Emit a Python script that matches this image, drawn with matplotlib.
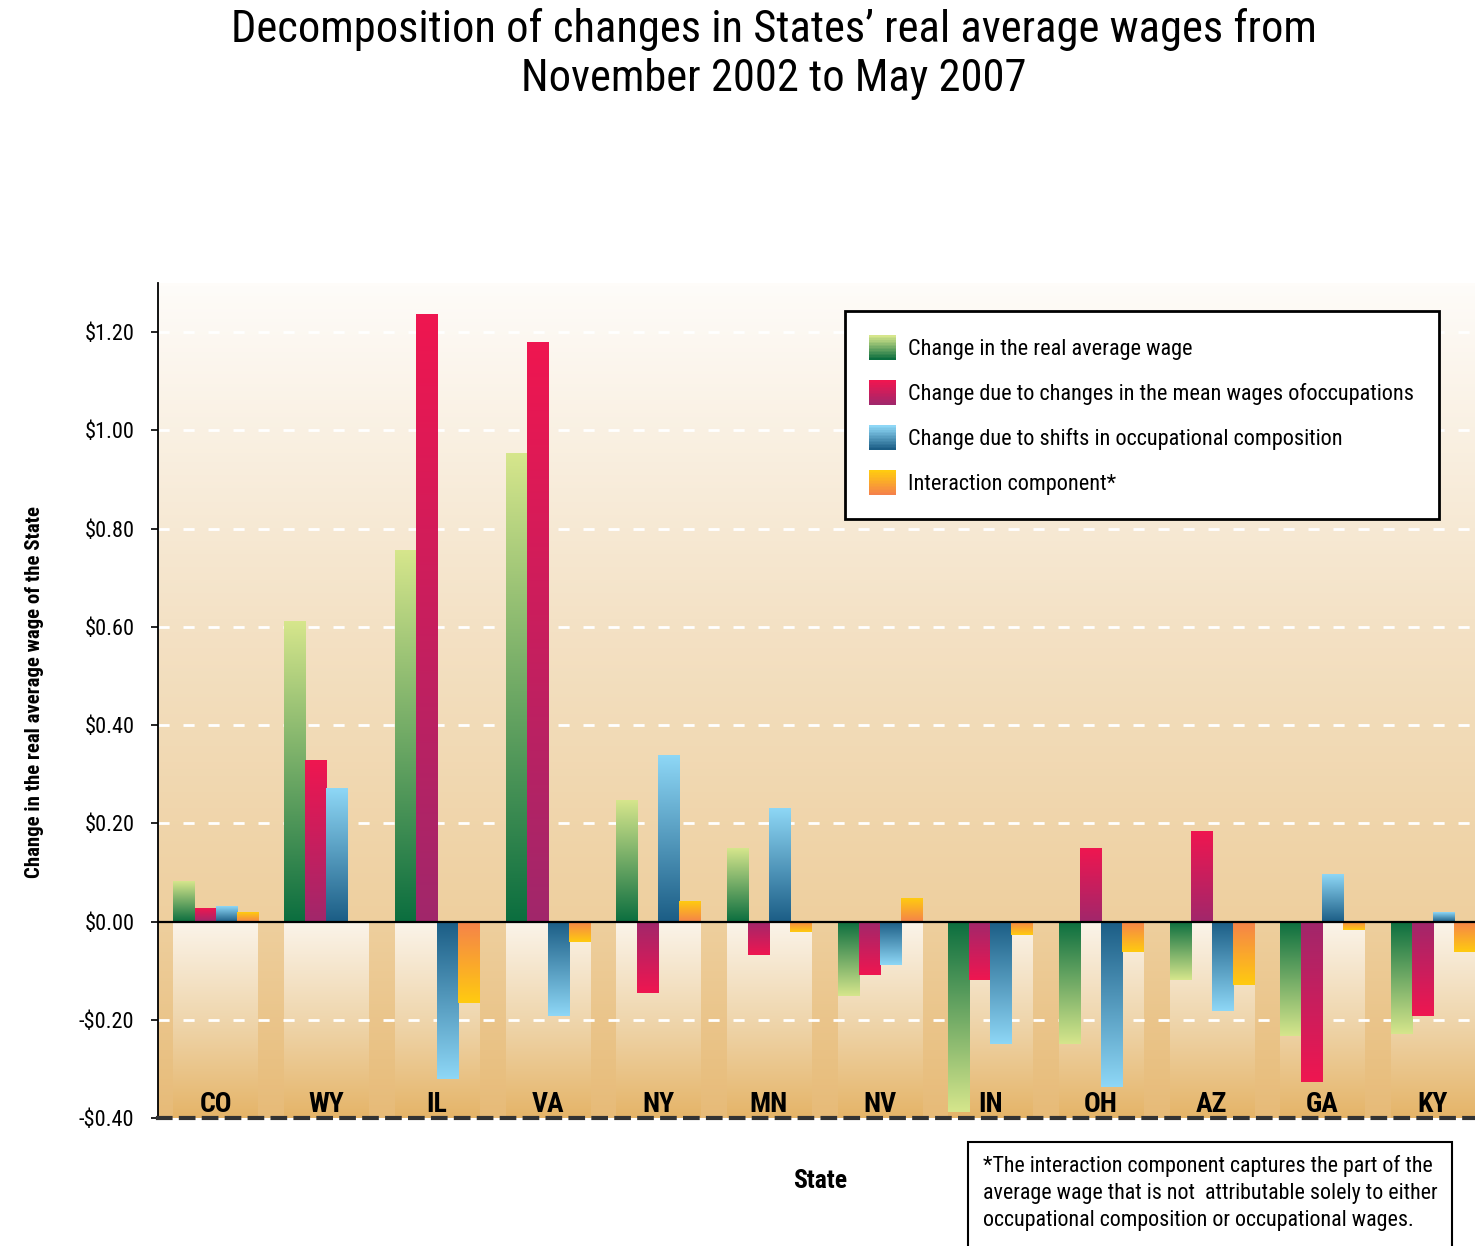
import numpy as np
import matplotlib
matplotlib.use("Agg")
from matplotlib import pyplot as plt
from matplotlib.patches import Rectangle, Patch
from matplotlib.colors import to_rgb
from matplotlib.legend_handler import HandlerBase

# values (dollars)
states = ["CO", "WY", "IL", "VA", "NY", "MN", "NV", "IN", "OH", "AZ", "GA", "KY"]
real_wage = [0.083, 0.612, 0.756, 0.953, 0.248, 0.150, -0.151, -0.388, -0.250, -0.119, -0.233, -0.229]
mean_wages = [0.027, 0.329, 1.236, 1.179, -0.146, -0.068, -0.109, -0.119, 0.150, 0.184, -0.327, -0.193]
composition = [0.031, 0.272, -0.321, -0.192, 0.339, 0.232, -0.089, -0.249, -0.337, -0.182, 0.097, 0.020]
interaction = [0.020, 0.0, -0.166, -0.042, 0.041, -0.022, 0.047, -0.028, -0.063, -0.130, -0.018, -0.063]

labels = ["Change in the real average wage",
          "Change due to changes in the mean wages ofoccupations",
          "Change due to shifts in occupational composition",
          "Interaction component*"]
yticks = [-0.4, -0.2, 0.0, 0.2, 0.4, 0.6, 0.8, 1.0, 1.2]

# (colour at the zero line, colour at the bar tip)
gradients = [("#0b6e3f", "#d6e68c"),
             ("#a1276b", "#ef1650"),
             ("#1b5d85", "#8ed7f6"),
             ("#f5824a", "#ffcb10")]

plt.rcParams['font.family'] = ['Roboto Condensed', 'Liberation Sans', 'DejaVu Sans']


def ramp(stops, n=256):
    # stops: list of (position 0..1 bottom->top, colour)
    pos = [s[0] for s in stops]
    cols = np.array([to_rgb(s[1]) for s in stops])
    t = np.linspace(0, 1, n)
    out = np.stack([np.interp(t, pos, cols[:, k]) for k in range(3)], axis=-1)
    return out[:, None, :]


fig = plt.figure(figsize=(14.75, 12.46), dpi=100)
ax = fig.add_axes([158 / 1475, 1 - 1118 / 1246, 1 - 158 / 1475, (1118 - 283) / 1246])

ylo, yhi = -0.40, 1.30
xlo, xhi = -0.52, 11.38
w = 0.19

# page background of the plot area
zpos = (0 - ylo) / (yhi - ylo)
ax.imshow(ramp([(0, "#e7bb78"), (zpos, "#eecf9e"), (0.6, "#f4e2c6"), (1, "#fefcf9")]),
          extent=(xlo, xhi, ylo, yhi), origin="lower", aspect="auto", zorder=0)

# light columns below zero behind each state
x = np.arange(len(states))
for xi in x:
    ax.imshow(ramp([(0, "#e5b468"), (0.5, "#efd6ad"), (1, "#fbf4ea")]),
              extent=(xi - 2 * w, xi + 2 * w, ylo, 0), origin="lower", aspect="auto", zorder=1)

for t in yticks:
    if t not in (0.0, -0.4):
        ax.axhline(t, color="white", lw=2, ls=(0, (4, 5)), zorder=2)

series = [real_wage, mean_wages, composition, interaction]
for k, vals in enumerate(series):
    bars = ax.bar(x + (k - 1.5) * w, vals, width=w, color="none", zorder=3)
    base, tip = gradients[k]
    for b, v in zip(bars, vals):
        if v == 0:
            continue
        x0 = b.get_x()
        if v > 0:
            img = ramp([(0, base), (1, tip)])
        else:
            img = ramp([(0, tip), (1, base)])
        ax.imshow(img, extent=(x0, x0 + b.get_width(), min(0, v), max(0, v)),
                  origin="lower", aspect="auto", zorder=3)

ax.axhline(0, color="black", lw=1.6, zorder=4)

for xi, s in zip(x, states):
    ax.text(xi, -0.372, s, ha="center", va="center", fontsize=20, fontweight="bold", zorder=5)

ax.set_xlim(xlo, xhi)
ax.set_ylim(ylo, yhi)
ax.set_xticks([])
ax.set_yticks(yticks)
ax.set_yticklabels([("-$%.2f" % abs(t)) if t < 0 else ("$%.2f" % t) for t in yticks])
ax.tick_params(axis="y", direction="out", length=5, width=1.2, pad=12, labelsize=16)
ax.spines["top"].set_visible(False)
ax.spines["right"].set_visible(False)
ax.spines["left"].set_linewidth(1.3)
ax.spines["bottom"].set_linestyle((0, (3, 2.5)))
ax.spines["bottom"].set_color("#333333")
ax.spines["bottom"].set_linewidth(3)


class GradientHandler(HandlerBase):
    def __init__(self, base, tip):
        super().__init__()
        self.base, self.tip = base, tip

    def create_artists(self, legend, orig_handle, xdescent, ydescent, width, height, fontsize, trans):
        n = 16
        cols = ramp([(0, self.base), (1, self.tip)], n)[:, 0, :]
        arts = []
        for i in range(n):
            arts.append(Rectangle((-xdescent, -ydescent + i * height / n), width, height / n + 0.3,
                                  facecolor=cols[i], edgecolor="none", transform=trans))
        return arts


handles = [Patch(label=l) for l in labels]
hmap = {h: GradientHandler(*g) for h, g in zip(handles, gradients)}
leg = ax.legend(handles=handles, handler_map=hmap, loc="upper left",
                bbox_to_anchor=(845 / 1475, 1 - 311 / 1246), bbox_transform=fig.transFigure,
                borderaxespad=0, fontsize=16, frameon=True, fancybox=False, framealpha=1,
                edgecolor="black", handlelength=1.2, handleheight=1.3, handletextpad=0.55,
                labelspacing=0.92, borderpad=1.1)
leg.get_frame().set_linewidth(2)
leg.set_zorder(10)

fig.text(774 / 1475, 1 - 8 / 1246,
         "Decomposition of changes in States\u2019 real average wages from\nNovember 2002 to May 2007",
         ha="center", va="top", fontsize=32, linespacing=1.2)
fig.text(35 / 1475, 1 - 692 / 1246, "Change in the real average wage of the State",
         rotation=90, ha="center", va="center", fontsize=15, fontweight="bold")
fig.text(820 / 1475, 1 - 1181 / 1246, "State", ha="center", va="center",
         fontsize=18.5, fontweight="bold")

fig.patches.append(Rectangle((968 / 1475, -0.05), (1452 - 968) / 1475, 0.05 + 1 - 1142 / 1246,
                             transform=fig.transFigure, facecolor="white", edgecolor="black",
                             lw=1.5, zorder=5))
fig.text(983 / 1475, 1 - 1155 / 1246,
         "*The interaction component captures the part of the\n"
         "average wage that is not  attributable solely to either\n"
         "occupational composition or occupational wages.",
         ha="left", va="top", fontsize=15.8, linespacing=1.38, zorder=6)

fig.savefig("out.png", dpi=100)
